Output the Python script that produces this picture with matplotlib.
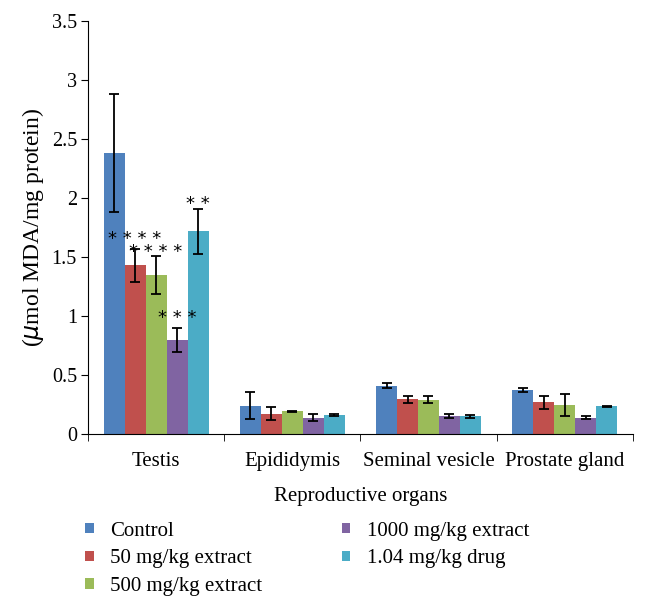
import matplotlib
matplotlib.use("Agg")
import matplotlib.pyplot as plt
import numpy as np

plt.rcParams['font.family'] = ['Liberation Serif', 'DejaVu Serif']

categories = ["Testis", "Epididymis", "Seminal vesicle", "Prostate gland"]
series_names = ["Control", "50 mg/kg extract", "500 mg/kg extract",
                "1000 mg/kg extract", "1.04 mg/kg drug"]
colors = ["#4F81BD", "#C0504D", "#9BBB59", "#8064A2", "#4BACC6"]

control = [2.38, 0.24, 0.41, 0.375]
ext50 = [1.43, 0.175, 0.295, 0.27]
ext500 = [1.35, 0.195, 0.29, 0.245]
ext1000 = [0.80, 0.14, 0.155, 0.14]
drug = [1.72, 0.165, 0.15, 0.235]

err_control = [0.50, 0.115, 0.02, 0.02]
err_ext50 = [0.14, 0.055, 0.03, 0.055]
err_ext500 = [0.16, 0.005, 0.03, 0.095]
err_ext1000 = [0.10, 0.03, 0.015, 0.015]
err_drug = [0.19, 0.01, 0.01, 0.005]

# significance marks on Testis group
stars = ["", "* * * *", "* * * *", "* * *", "* *"]
star_y = [None, 1.65, 1.54, 0.98, 1.95]

values = [control, ext50, ext500, ext1000, drug]
errors = [err_control, err_ext50, err_ext500, err_ext1000, err_drug]

fig = plt.figure(figsize=(6.47, 6.15), dpi=100)
ax = fig.add_axes([0.136, 0.294, 0.842, 0.672])

n = len(series_names)
group_w = 0.77
bw = group_w / n
x = np.arange(len(categories))
handles = []
for i in range(n):
    pos = x - group_w / 2 + bw * (i + 0.5)
    b = ax.bar(pos, values[i], width=bw, color=colors[i], label=series_names[i],
               yerr=errors[i], capsize=3.5,
               error_kw=dict(ecolor='black', elinewidth=1.3, capthick=1.3))
    handles.append(b)
    if stars[i]:
        ax.text(pos[0], star_y[i], stars[i], ha='center', va='center',
                fontsize=13, family='DejaVu Sans')

ax.set_xlim(-0.5, len(categories) - 0.5)
ax.set_ylim(0, 3.5)
ax.set_yticks(np.arange(0, 3.51, 0.5))
ax.set_yticklabels(["0", "0.5", "1", "1.5", "2", "2.5", "3", "3.5"])
ax.set_xticks(x)
ax.set_xticklabels(categories, fontsize=15)
ax.set_xticks(np.arange(-0.5, len(categories), 1.0), minor=True)
ax.tick_params(axis='x', which='major', length=0, pad=13)
ax.tick_params(axis='x', which='minor', length=5, direction='out')
ax.tick_params(axis='y', labelsize=14.5, length=5, direction='out', pad=3)
ax.spines['top'].set_visible(False)
ax.spines['right'].set_visible(False)
ax.set_xlabel("Reproductive organs", fontsize=15, labelpad=11)
ax.set_ylabel(r"($\mathit{\mu}$mol MDA/mg protein)", fontsize=17, labelpad=4)

leg_kw = dict(loc='upper left', frameon=False, fontsize=15,
              handlelength=0.4, handleheight=0.4, handletextpad=0.8,
              labelspacing=0.42, borderaxespad=0, borderpad=0)
fig.legend(handles=handles[:3], labels=series_names[:3],
           bbox_to_anchor=(0.132, 0.152), **leg_kw)
fig.legend(handles=handles[3:], labels=series_names[3:],
           bbox_to_anchor=(0.528, 0.152), **leg_kw)

fig.savefig("out.png", dpi=100)
